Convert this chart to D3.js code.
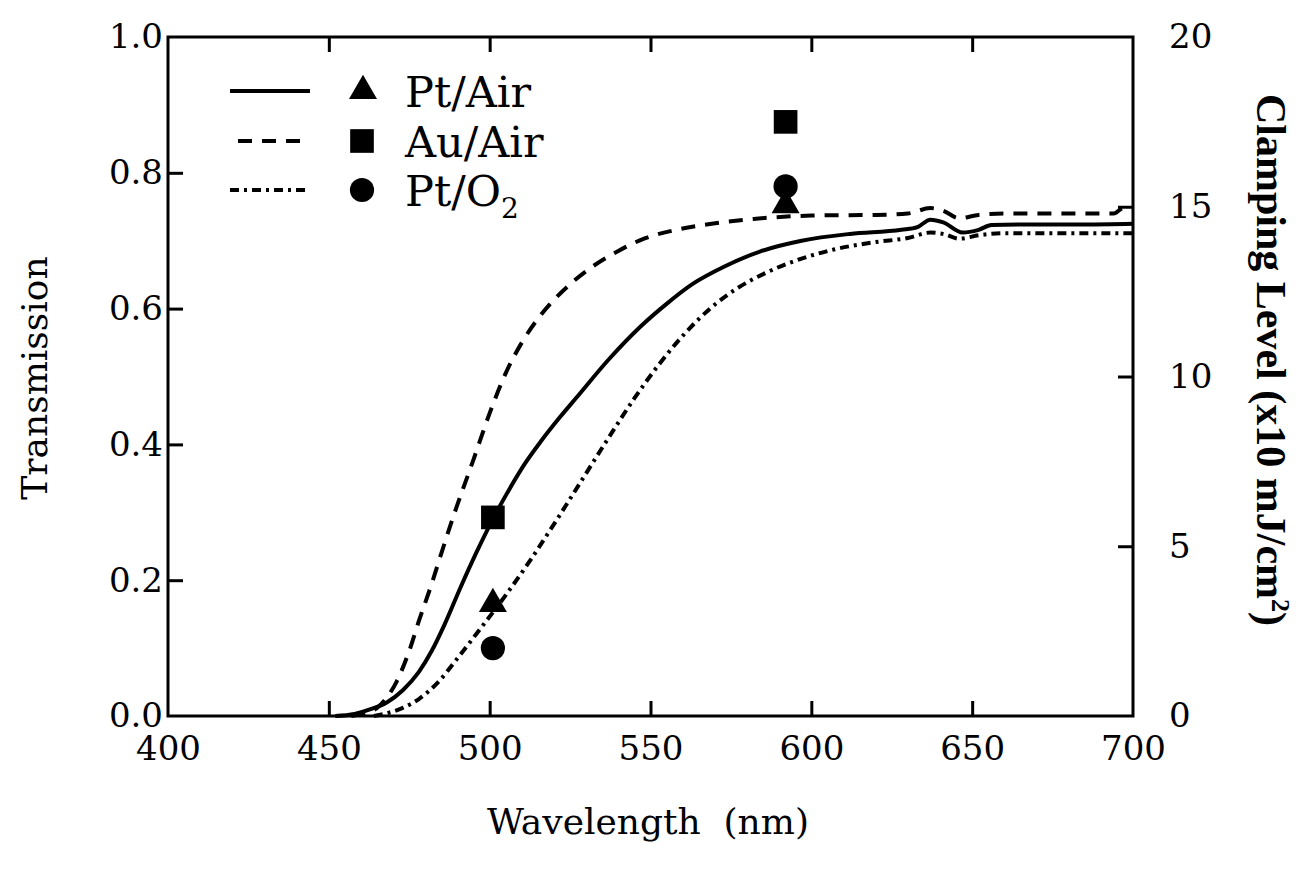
<!DOCTYPE html>
<html><head><meta charset="utf-8">
<script src="https://cdn.jsdelivr.net/npm/d3@7/dist/d3.min.js"></script>
<style>body{margin:0;background:#fff}svg{display:block}</style>
</head><body>
<svg id="chart" width="1309" height="869"></svg>
<script>
// ---- data ----
const ptAirWl = [452,458,463,468,473,478,482,486,491,496,501,506,511,516,522,527,537,547,555,563,573,584,597,612,628,633,637,641,647,652,656,670,685,700];
const ptAirT  = [0,0.003,0.01,0.02,0.038,0.065,0.096,0.135,0.19,0.242,0.29,0.333,0.372,0.405,0.441,0.469,0.525,0.574,0.607,0.636,0.662,0.684,0.70,0.71,0.716,0.72,0.731,0.727,0.712,0.716,0.723,0.724,0.724,0.725];
const auAirWl = [457,461,465,468,471,475,478,482,485,489,495,500,505,510,515,520,526,532,540,548,558,569,582,600,620,630,637,641,646,652,660,680,694,697,700];
const auAirT  = [0,0.004,0.012,0.027,0.05,0.096,0.14,0.195,0.24,0.298,0.378,0.446,0.505,0.55,0.585,0.613,0.64,0.662,0.685,0.703,0.716,0.725,0.732,0.737,0.738,0.74,0.748,0.744,0.733,0.738,0.74,0.74,0.74,0.748,0.748];
const ptO2Wl  = [464,468,473,478,484,490,497,505,513,521,529,537,545,553,561,569,577,586,596,607,620,630,637,641,646,652,660,680,700];
const ptO2T   = [0,0.004,0.012,0.025,0.05,0.085,0.128,0.178,0.232,0.29,0.35,0.41,0.468,0.52,0.565,0.602,0.63,0.653,0.672,0.687,0.698,0.704,0.712,0.71,0.703,0.708,0.711,0.711,0.711];
// clamping levels (x10 mJ/cm^2) at two wavelengths
const clampWl    = [501, 592];
const clampPtAir = [3.3, 15.05];
const clampAuAir = [5.85, 17.5];
const clampPtO2  = [2.0, 15.6];
const xTicks = [400,450,500,550,600,650,700];
const yTicks = [0,0.2,0.4,0.6,0.8,1.0];
const y2Ticks = [0,5,10,15,20];
const legendLabels = ["Pt/Air","Au/Air","Pt/O"];

// ---- layout ----
const L=168, R=1133, T=37, B=716;
const svg=d3.select("#chart");
const font="'DejaVu Serif', serif";
const x=d3.scaleLinear().domain([400,700]).range([L,R]);
const y=d3.scaleLinear().domain([0,1]).range([B,T]);
const y2=d3.scaleLinear().domain([0,20]).range([B,T]);

// frame
svg.append("rect").attr("x",L).attr("y",T).attr("width",R-L).attr("height",B-T)
  .attr("fill","none").attr("stroke","#000").attr("stroke-width",3);

// axes with inward ticks
const tickLen=15;
const gB=svg.append("g").attr("transform",`translate(0,${B})`)
  .call(d3.axisBottom(x).tickValues(xTicks).tickSize(0).tickPadding(20).tickFormat(d3.format("d")));
gB.selectAll(".tick line").remove();
gB.selectAll(".tick").filter(d=>d>400&&d<700).append("line").attr("y1",0).attr("y2",-tickLen);
const gT=svg.append("g").attr("transform",`translate(0,${T})`)
  .call(d3.axisTop(x).tickValues(xTicks.filter(d=>d>400&&d<700)).tickSize(0).tickFormat(""));
gT.selectAll(".tick").append("line").attr("y1",0).attr("y2",tickLen);
const gL=svg.append("g").attr("transform",`translate(${L},0)`)
  .call(d3.axisLeft(y).tickValues(yTicks).tickSize(0).tickPadding(5).tickFormat(d3.format(".1f")));
gL.selectAll(".tick").filter(d=>d>0&&d<1).append("line").attr("x1",0).attr("x2",tickLen);
const gR=svg.append("g").attr("transform",`translate(${R},0)`)
  .call(d3.axisRight(y2).tickValues(y2Ticks).tickSize(0).tickPadding(36).tickFormat(d3.format("d")));
gR.selectAll(".tick").filter(d=>d>0&&d<20).append("line").attr("x1",0).attr("x2",-tickLen);
[gB,gT,gL,gR].forEach(g=>{
  g.select(".domain").remove();
  g.selectAll(".tick line").attr("stroke","#000").attr("stroke-width",3);
  g.selectAll("text").attr("font-family",font).attr("font-size",34).attr("fill","#000");
});

// curves
const line=d3.line().x(d=>x(d[0])).y(d=>y(d[1])).curve(d3.curveMonotoneX);
const series=[
  {wl:ptAirWl,t:ptAirT,dash:null},
  {wl:auAirWl,t:auAirT,dash:"14,10"},
  {wl:ptO2Wl,t:ptO2T,dash:"9,5,3,5"}
];
series.forEach(s=>{
  svg.append("path").datum(d3.zip(s.wl,s.t)).attr("d",line)
    .attr("fill","none").attr("stroke","#000").attr("stroke-width",4)
    .attr("stroke-dasharray",s.dash);
});

// markers
const sym={tri:d3.symbol().type(d3.symbolTriangle).size(340),
           sq:d3.symbol().type(d3.symbolSquare).size(560),
           ci:d3.symbol().type(d3.symbolCircle).size(460)};
function markers(vals,s){
  svg.append("g").selectAll("path").data(d3.zip(clampWl,vals)).join("path")
    .attr("transform",d=>`translate(${x(d[0])},${y2(d[1])})`)
    .attr("d",s).attr("fill","#000");
}
markers(clampAuAir,sym.sq());
markers(clampPtO2,sym.ci());
markers(clampPtAir,sym.tri());

// legend
const lg=svg.append("g");
const rows=[91,141,190];
lg.append("line").attr("x1",230).attr("x2",310).attr("y1",rows[0]).attr("y2",rows[0]).attr("stroke","#000").attr("stroke-width",4);
lg.append("line").attr("x1",238).attr("x2",304).attr("y1",rows[1]).attr("y2",rows[1]).attr("stroke","#000").attr("stroke-width",4).attr("stroke-dasharray","14,10");
lg.append("line").attr("x1",230).attr("x2",305).attr("y1",rows[2]).attr("y2",rows[2]).attr("stroke","#000").attr("stroke-width",4).attr("stroke-dasharray","9,5,3,5");
lg.append("path").attr("d",sym.tri()).attr("transform",`translate(363,${rows[0]})`);
lg.append("path").attr("d",sym.sq()).attr("transform",`translate(362,${rows[1]})`);
lg.append("path").attr("d",sym.ci()).attr("transform",`translate(362,${rows[2]})`);
legendLabels.forEach((t,i)=>{
  const tx=lg.append("text").attr("x",405).attr("y",rows[i]+16).attr("font-family",font).attr("font-size",43).text(t);
  if(i===2) tx.append("tspan").attr("font-size",28).attr("dy",12).text("2");
});

// axis titles
svg.append("text").attr("x",648).attr("y",834).attr("text-anchor","middle")
  .attr("font-family",font).attr("font-size",36).attr("xml:space","preserve").text("Wavelength  (nm)");
svg.append("text").attr("transform","translate(47,378) rotate(-90)").attr("text-anchor","middle")
  .attr("font-family",font).attr("font-size",36).text("Transmission");
const t2=svg.append("text").attr("transform","translate(1257,360) rotate(90)").attr("text-anchor","middle")
  .attr("font-family","'Liberation Serif', serif").attr("font-weight","bold").attr("font-size",42);
t2.append("tspan").text("Clamping Level (x10 mJ/cm");
t2.append("tspan").attr("font-size",26).attr("dy",-15).text("2");
t2.append("tspan").attr("dy",15).text(")");
</script>
</body></html>
